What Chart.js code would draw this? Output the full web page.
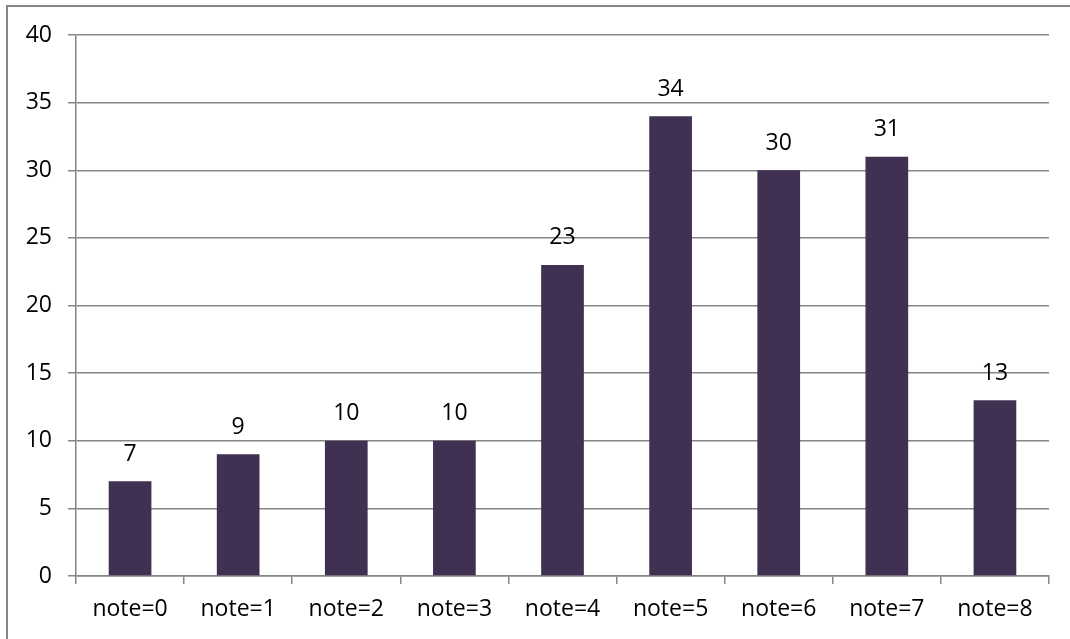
<!DOCTYPE html>
<html>
<head>
<meta charset="utf-8">
<script src="https://cdn.jsdelivr.net/npm/chart.js@4/dist/chart.umd.min.js"></script>
<style>
    html, body { margin: 0; padding: 0; background: #fff; }
    #wrap { width: 1070px; height: 639px; position: relative; }
</style>
</head>
<body>
<div id="wrap"><canvas id="note-chart"></canvas></div>
<script>
// 数据
var categories = ['note=0', 'note=1', 'note=2', 'note=3', 'note=4', 'note=5', 'note=6', 'note=7', 'note=8'];
var counts = [7, 9, 10, 10, 23, 34, 30, 31, 13];
var yTicks = [0, 5, 10, 15, 20, 25, 30, 35, 40];

var barColor = '#403152';
var lineColor = '#868686';
var fontFamily = '"Open Sans", "Liberation Sans", sans-serif';

// 外框（只有上边和左边可见）
var framePlugin = {
    id: 'frame',
    beforeDraw: function (chart) {
        var ctx = chart.ctx;
        ctx.save();
        ctx.fillStyle = '#fff';
        ctx.fillRect(0, 0, chart.width, chart.height);
        ctx.strokeStyle = lineColor;
        ctx.lineWidth = 2;
        ctx.beginPath();
        ctx.moveTo(7, chart.height);
        ctx.lineTo(7, 6);
        ctx.lineTo(chart.width, 6);
        ctx.stroke();
        ctx.restore();
    }
};

// 柱子上方的数值
var valueLabels = {
    id: 'valueLabels',
    afterDatasetsDraw: function (chart) {
        var ctx = chart.ctx;
        var meta = chart.getDatasetMeta(0);
        ctx.save();
        ctx.fillStyle = '#000';
        ctx.font = '23px ' + fontFamily;
        ctx.textAlign = 'center';
        ctx.textBaseline = 'middle';
        meta.data.forEach(function (bar, i) {
            ctx.fillText(String(counts[i]), bar.x, bar.y - 27);
        });
        ctx.restore();
    }
};

new Chart(document.getElementById('note-chart'), {
    type: 'bar',
    data: {
        labels: categories,
        datasets: [{
            data: counts,
            backgroundColor: barColor,
            borderWidth: 0,
            barPercentage: 0.395,
            categoryPercentage: 1
        }]
    },
    options: {
        responsive: true,
        maintainAspectRatio: false,
        animation: false,
        layout: { padding: { top: 35, right: 21, left: 0, bottom: 0 } },
        plugins: {
            legend: { display: false },
            tooltip: { enabled: false }
        },
        scales: {
            x: {
                offset: true,
                grid: {
                    offset: true,
                    drawOnChartArea: false,
                    drawTicks: true,
                    tickLength: 8,
                    color: lineColor,
                    lineWidth: 1.5
                },
                border: { color: lineColor, width: 1.5 },
                ticks: {
                    color: '#000',
                    padding: 12,
                    maxRotation: 0,
                    font: { family: fontFamily, size: 23 }
                },
                afterFit: function (scale) { scale.height = 63; }
            },
            y: {
                min: 0,
                max: 40,
                afterBuildTicks: function (scale) {
                    scale.ticks = yTicks.map(function (v) { return { value: v }; });
                },
                grid: {
                    drawTicks: true,
                    tickLength: 8,
                    color: lineColor,
                    lineWidth: 1.5
                },
                border: { color: lineColor, width: 1.5 },
                ticks: {
                    color: '#000',
                    padding: 16,
                    font: { family: fontFamily, size: 23 }
                },
                afterFit: function (scale) { scale.width = 76; }
            }
        }
    },
    plugins: [framePlugin, valueLabels]
});
</script>
</body>
</html>
